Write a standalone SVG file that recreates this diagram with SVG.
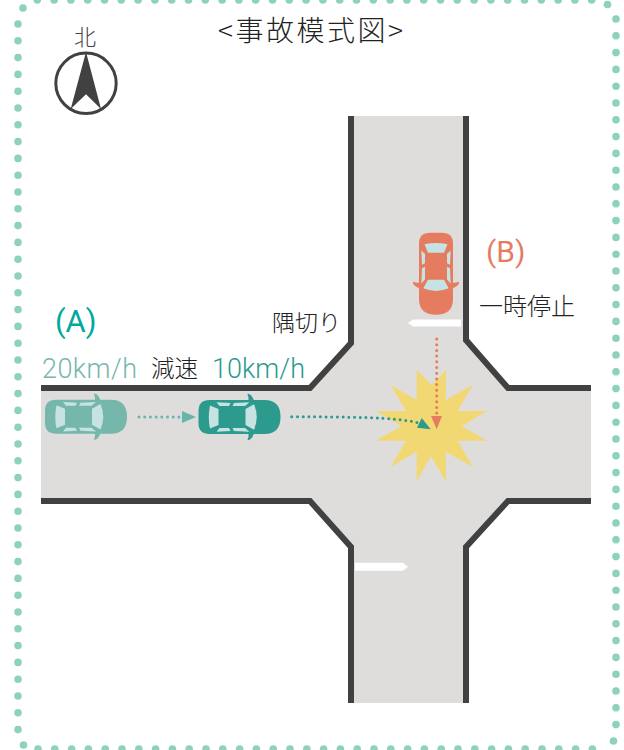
<svg xmlns="http://www.w3.org/2000/svg" width="624" height="750" viewBox="0 0 624 750">
<style>
.jp{font-family:"Noto Sans CJK JP","Noto Sans",sans-serif;font-weight:300;fill:#222}
.la{font-family:Roboto,"Noto Sans",sans-serif;font-weight:400}
.th{font-weight:300}
.frame{fill:none;stroke:#8fd3b6;stroke-width:7.6;stroke-linecap:round;stroke-dasharray:0 16.8}
.wall{fill:none;stroke:#414141;stroke-width:6}
.glass{fill:#c6e2e2}
.dot{fill:none;stroke-width:3;stroke-linecap:round;stroke-dasharray:0 5.7}
</style>
<defs>
<g id="car">
<path d="M-30-17H25Q41-17 41 0T25 17H-30Q-41 17-41 6V-6Q-41-17-30-17Z"/>
<path d="M9-16Q9.500-20 8-22.500Q8-23.500 9.500-23Q13-21.500 14.500-16L12-15.500ZM9 16Q9.500 20 8 22.500Q8 23.500 9.500 23Q13 21.500 14.500 16L12 15.500Z"/>
<path class="glass" d="M-29.500-11.500L-21-8V8L-29.500 11.500Q-32 0-29.500-11.500ZM6-8L14.500-12.700Q20 0 14.500 12.700L6 8ZM-23-14.700L-9-14L-10.500-11H-20ZM-5.500-14L10-14.700L5.500-11H-7ZM-23 14.700L-9 14L-10.500 11H-20ZM-5.500 14L10 14.700L5.500 11H-7Z"/>
</g>
</defs>
<g id="frame">
<path class="frame" d="M18 24V730"/>
<path class="frame" d="M616 19V730"/>
<path class="frame" d="M37.300 0H600"/>
<path class="frame" d="M38 749H600"/>
<circle cx="23" cy="8" r="3.800" fill="#8fd3b6"/>
<circle cx="607.500" cy="4.500" r="3.800" fill="#8fd3b6"/>
<circle cx="23.500" cy="745" r="3.800" fill="#8fd3b6"/>
<circle cx="613.500" cy="741" r="3.800" fill="#8fd3b6"/>
</g>
<g id="road">
<path fill="#dfdddc" d="M351 116H466V340L508 388H591V501H508L466 547V703H351V547L310 501H41V388H310L351 343Z"/>
<path fill="#fff" d="M461 319.500V326.500H413L408 323L413 319.500Z"/>
<path fill="#fff" d="M355 562.700V570.700H403L408 566.700L403 562.700Z"/>
</g>
<g id="walls">
<path class="wall" d="M351 116V343L310 388H41"/>
<path class="wall" d="M466 116V340L508 388H591"/>
<path class="wall" d="M41 501H310L351 547V703"/>
<path class="wall" d="M591 501H508L466 547V703"/>
</g>
<g id="title"><text class="jp" x="218" y="41" font-size="28" letter-spacing="2.500">&lt;事故模式図&gt;</text></g>
<g id="compass">
<text class="jp" x="85" y="45" font-size="22" text-anchor="middle" style="fill:#444">北</text>
<circle cx="86" cy="83.300" r="30.200" fill="none" stroke="#414141" stroke-width="3"/>
<path fill="#414141" d="M86 52L101 109L86 94.300L70.700 109Z"/>
</g>
<g id="star"><path fill="#f2d873" d="M416.700 370L431.700 385L446 370L445.700 400L472.700 385L457.700 411L487.300 411L461.700 426L487.300 440.700L457.700 440.700L472.700 466.700L445.700 451.700L446 481.700L431 456L416.700 481.700L416.700 451.700L390.700 466.700L406 440.700L375.700 440.700L401.700 426L375.700 411L406 411L390.700 385L416.700 400Z"/></g>
<g id="labelA">
<text class="la" x="55" y="332" font-size="31" fill="#00a99d">(A)</text>
<text class="la th" x="42" y="378" font-size="27" fill="#76b7ac" textLength="95">20km/h</text>
<text class="jp" x="151" y="377" font-size="23.500">減速</text>
<text class="la th" x="212" y="378" font-size="27" fill="#2c9a8d" textLength="93">10km/h</text>
</g>
<g id="labelB">
<text class="la" x="486" y="262" font-size="30" fill="#e67c5f">(B)</text>
<text class="jp" x="479" y="315" font-size="24">一時停止</text>
</g>
<g id="label-corner"><text class="jp" x="272" y="331" font-size="23">隅切り</text></g>
<g id="carA1" fill="#76b7ac" transform="translate(86 416.700)"><use href="#car"/></g>
<g id="carA2" fill="#2c9a8d" transform="translate(239.500 417)"><use href="#car"/></g>
<g id="carB" fill="#e67c5f" transform="translate(436 273.700) rotate(90)"><use href="#car"/></g>
<g id="connectors">
<path class="dot" stroke="#6ab5a9" d="M139 417H181"/>
<path fill="#6ab5a9" d="M182 411L196 417L182 423Z"/>
<path class="dot" stroke="#2c9a8d" d="M291.700 416.700C350 417 395 417 418 422.700"/>
<path fill="#2c9a8d" d="M421.700 418L430.700 429.300L417 427.700Z"/>
<path class="dot" stroke="#e67c5f" d="M436.700 339V415"/>
<path fill="#e67c5f" d="M431 416H442L436.700 429.300Z"/>
</g>
</svg>
